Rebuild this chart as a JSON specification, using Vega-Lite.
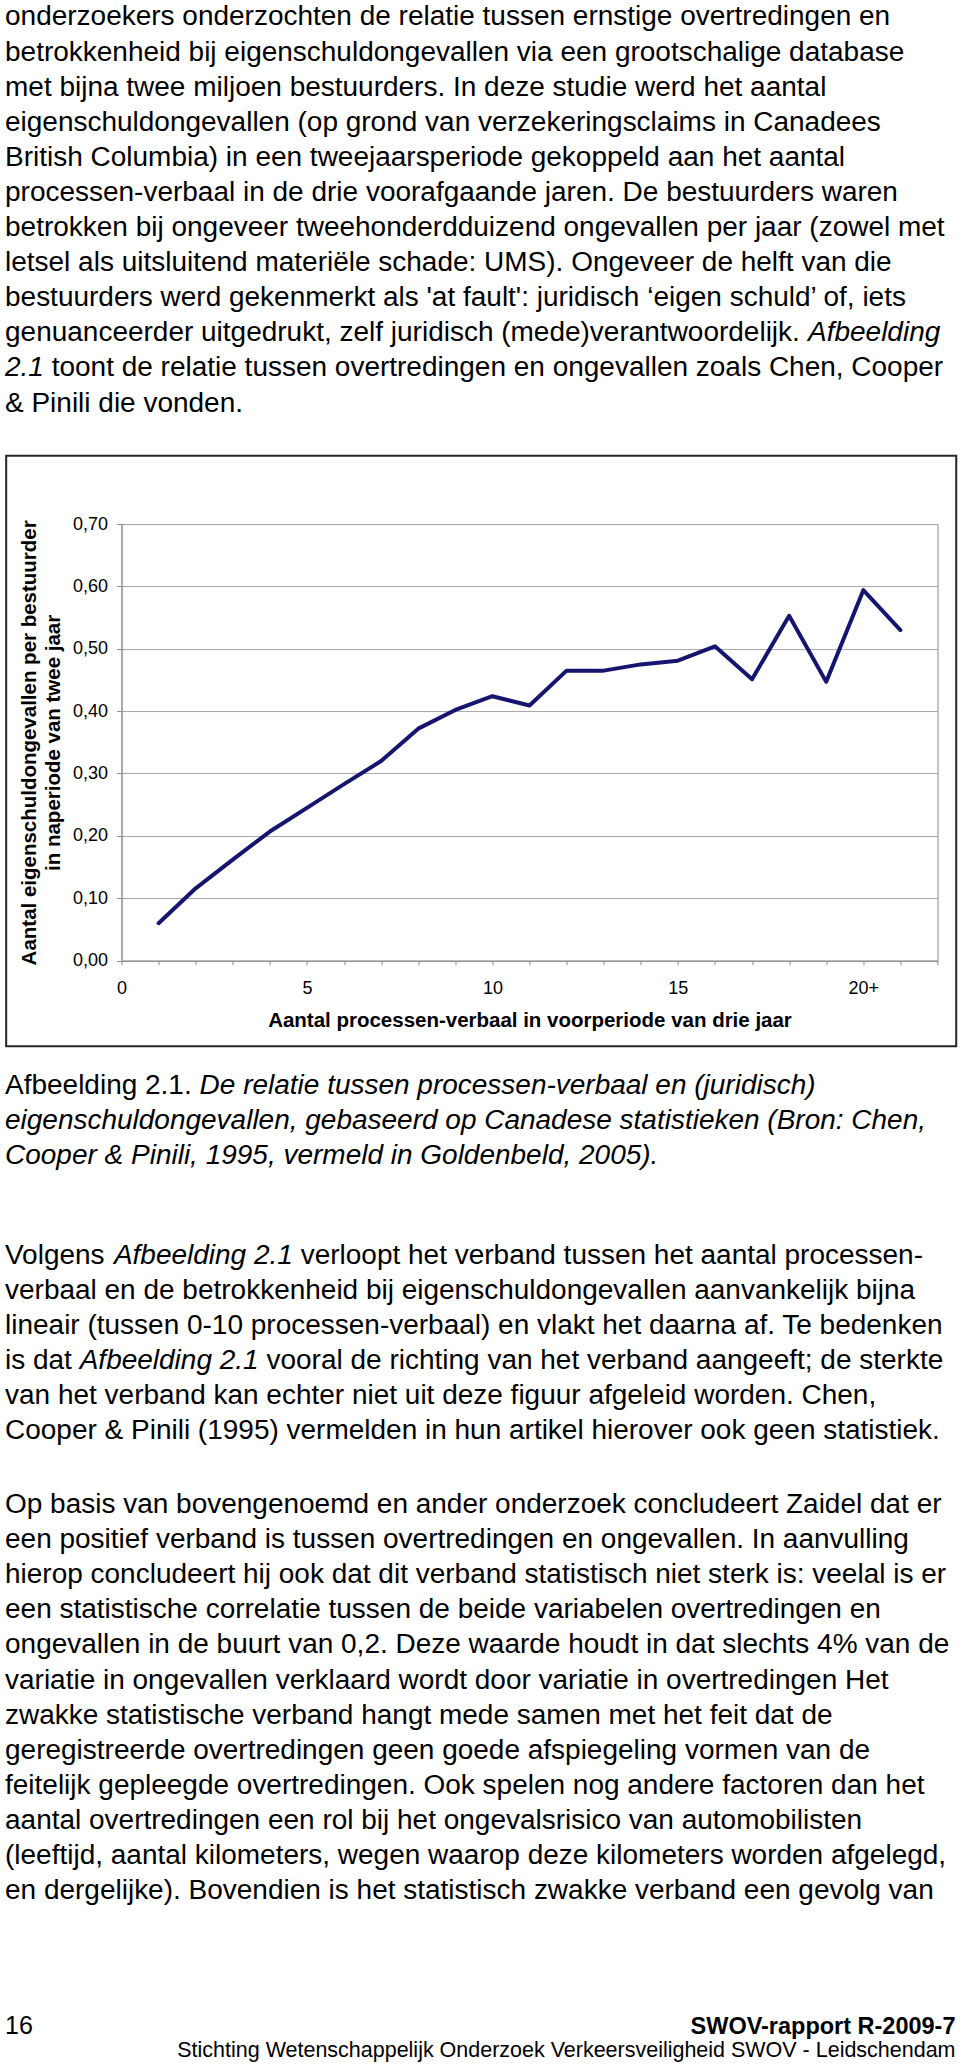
{
  "$schema": "https://vega.github.io/schema/vega-lite/v6.json",
  "background": "white",
  "padding": {"top": 0.93, "left": 4.5, "right": 0, "bottom": 0},
  "config": {"font": "Liberation Sans", "view": {"stroke": null}, "axis": {"labelOverlap": false, "labelBound": false}},
  "datasets": {
    "top_regular": [
      {"line": 1, "text": "onderzoekers onderzochten de relatie tussen ernstige overtredingen en"},
      {"line": 2, "text": "betrokkenheid bij eigenschuldongevallen via een grootschalige database"},
      {"line": 3, "text": "met bijna twee miljoen bestuurders. In deze studie werd het aantal"},
      {"line": 4, "text": "eigenschuldongevallen (op grond van verzekeringsclaims in Canadees"},
      {"line": 5, "text": "British Columbia) in een tweejaarsperiode gekoppeld aan het aantal"},
      {"line": 6, "text": "processen-verbaal in de drie voorafgaande jaren. De bestuurders waren"},
      {"line": 7, "text": "betrokken bij ongeveer tweehonderdduizend ongevallen per jaar (zowel met"},
      {"line": 8, "text": "letsel als uitsluitend materiële schade: UMS). Ongeveer de helft van die"},
      {"line": 9, "text": "bestuurders werd gekenmerkt als 'at fault': juridisch ‘eigen schuld’ of, iets"},
      {"line": 10, "text": "genuanceerder uitgedrukt, zelf juridisch (mede)verantwoordelijk."},
      {"line": 12, "text": "& Pinili die vonden."}
    ],
    "top_italic_end": [{"line": 10, "text": "Afbeelding"}],
    "top_italic_start": [{"line": 11, "text": "2.1"}],
    "top_regular_after": [{"line": 11, "text": "toont de relatie tussen overtredingen en ongevallen zoals Chen, Cooper"}],
    "caption_regular": [{"line": 1, "text": "Afbeelding 2.1."}],
    "caption_italic_after": [{"line": 1, "text": "De relatie tussen processen-verbaal en (juridisch)"}],
    "caption_italic": [
      {"line": 2, "text": "eigenschuldongevallen, gebaseerd op Canadese statistieken (Bron: Chen,"},
      {"line": 3, "text": "Cooper & Pinili, 1995, vermeld in Goldenbeld, 2005)."}
    ],
    "volgens_regular": [
      {"line": 1, "text": "Volgens"},
      {"line": 2, "text": "verbaal en de betrokkenheid bij eigenschuldongevallen aanvankelijk bijna"},
      {"line": 3, "text": "lineair (tussen 0-10 processen-verbaal) en vlakt het daarna af. Te bedenken"},
      {"line": 4, "text": "is dat"},
      {"line": 5, "text": "van het verband kan echter niet uit deze figuur afgeleid worden. Chen,"},
      {"line": 6, "text": "Cooper & Pinili (1995) vermelden in hun artikel hierover ook geen statistiek."}
    ],
    "volgens_italic_1": [{"line": 1, "text": "Afbeelding 2.1"}],
    "volgens_regular_1": [{"line": 1, "text": "verloopt het verband tussen het aantal processen-"}],
    "volgens_italic_4": [{"line": 4, "text": "Afbeelding 2.1"}],
    "volgens_regular_4": [{"line": 4, "text": "vooral de richting van het verband aangeeft; de sterkte"}],
    "opbasis": [
      {"line": 1, "text": "Op basis van bovengenoemd en ander onderzoek concludeert Zaidel dat er"},
      {"line": 2, "text": "een positief verband is tussen overtredingen en ongevallen. In aanvulling"},
      {"line": 3, "text": "hierop concludeert hij ook dat dit verband statistisch niet sterk is: veelal is er"},
      {"line": 4, "text": "een statistische correlatie tussen de beide variabelen overtredingen en"},
      {"line": 5, "text": "ongevallen in de buurt van 0,2. Deze waarde houdt in dat slechts 4% van de"},
      {"line": 6, "text": "variatie in ongevallen verklaard wordt door variatie in overtredingen Het"},
      {"line": 7, "text": "zwakke statistische verband hangt mede samen met het feit dat de"},
      {"line": 8, "text": "geregistreerde overtredingen geen goede afspiegeling vormen van de"},
      {"line": 9, "text": "feitelijk gepleegde overtredingen. Ook spelen nog andere factoren dan het"},
      {"line": 10, "text": "aantal overtredingen een rol bij het ongevalsrisico van automobilisten"},
      {"line": 11, "text": "(leeftijd, aantal kilometers, wegen waarop deze kilometers worden afgelegd,"},
      {"line": 12, "text": "en dergelijke). Bovendien is het statistisch zwakke verband een gevolg van"}
    ],
    "footer_page": [{"line": 1, "text": "16"}],
    "footer_report": [{"line": 1, "text": "SWOV-rapport R-2009-7"}],
    "footer_institute": [{"line": 2, "text": "Stichting Wetenschappelijk Onderzoek Verkeersveiligheid SWOV - Leidschendam"}],
    "series": [
      {"processen_verbaal": 1, "ongevallen": 0.060},
      {"processen_verbaal": 2, "ongevallen": 0.116},
      {"processen_verbaal": 3, "ongevallen": 0.162},
      {"processen_verbaal": 4, "ongevallen": 0.207},
      {"processen_verbaal": 5, "ongevallen": 0.245},
      {"processen_verbaal": 6, "ongevallen": 0.283},
      {"processen_verbaal": 7, "ongevallen": 0.320},
      {"processen_verbaal": 8, "ongevallen": 0.372},
      {"processen_verbaal": 9, "ongevallen": 0.402},
      {"processen_verbaal": 10, "ongevallen": 0.424},
      {"processen_verbaal": 11, "ongevallen": 0.409},
      {"processen_verbaal": 12, "ongevallen": 0.465},
      {"processen_verbaal": 13, "ongevallen": 0.465},
      {"processen_verbaal": 14, "ongevallen": 0.475},
      {"processen_verbaal": 15, "ongevallen": 0.481},
      {"processen_verbaal": 16, "ongevallen": 0.504},
      {"processen_verbaal": 17, "ongevallen": 0.451},
      {"processen_verbaal": 18, "ongevallen": 0.553},
      {"processen_verbaal": 19, "ongevallen": 0.447},
      {"processen_verbaal": 20, "ongevallen": 0.594},
      {"processen_verbaal": 21, "ongevallen": 0.530}
    ]
  },
  "spacing": 17.13,
  "vconcat": [
    {
      "width": 834,
      "height": 435.24,
      "encoding": {
        "x": {"datum": 0, "type": "quantitative", "scale": {"domain": [0, 1]}, "axis": null},
        "y": {"field": "line", "type": "ordinal", "scale": {"type": "point", "padding": 0.7}, "axis": null},
        "text": {"field": "text", "type": "nominal"}
      },
      "layer": [
        {"data": {"name": "top_regular"}, "mark": {"type": "text", "align": "left", "baseline": "alphabetic", "fontSize": 28, "color": "#000000", "dx": -116.5}},
        {"data": {"name": "top_italic_end"}, "mark": {"type": "text", "align": "left", "baseline": "alphabetic", "fontSize": 28, "fontStyle": "italic", "color": "#000000", "dx": 686.5}},
        {"data": {"name": "top_italic_start"}, "mark": {"type": "text", "align": "left", "baseline": "alphabetic", "fontSize": 28, "fontStyle": "italic", "color": "#000000", "dx": -116.5}},
        {"data": {"name": "top_regular_after"}, "mark": {"type": "text", "align": "left", "baseline": "alphabetic", "fontSize": 28, "color": "#000000", "dx": -69.8}}
      ]
    },
    {
      "spacing": 21.43,
      "vconcat": [
        {
          "width": 816,
          "height": 436.6,
          "view": {"stroke": "#8c8c8c", "strokeWidth": 1},
          "layer": [
            {
              "data": {"name": "series"},
              "mark": {"type": "line", "color": "#151570", "strokeWidth": 4, "strokeJoin": "round", "strokeCap": "round"},
              "encoding": {
                "x": {
                  "field": "processen_verbaal", "type": "quantitative",
                  "scale": {"domain": [0, 22], "nice": false, "zero": false},
                  "axis": {
                    "title": "Aantal processen-verbaal in voorperiode van drie jaar",
                    "values": [0, 1, 2, 3, 4, 5, 6, 7, 8, 9, 10, 11, 12, 13, 14, 15, 16, 17, 18, 19, 20, 21, 22],
                    "tickCount": 30,
                    "labelExpr": "datum.value == 20 ? '20+' : (datum.value % 5 == 0 ? format(datum.value, 'd') : '')",
                    "grid": false,
                    "domainColor": "#8c8c8c",
                    "tickColor": "#8c8c8c",
                    "tickSize": 4,
                    "labelPadding": 14.4,
                    "labelFontSize": 18,
                    "labelColor": "#000000",
                    "labelFlush": false,
                    "labelOverlap": false,
                    "labelBound": false,
                    "titleFontSize": 20.5,
                    "titleFontWeight": "bold",
                    "titleColor": "#000000",
                    "titlePadding": 13.5
                  }
                },
                "y": {
                  "field": "ongevallen", "type": "quantitative",
                  "scale": {"domain": [0, 0.7], "nice": false},
                  "axis": {
                    "title": ["Aantal eigenschuldongevallen per bestuurder", "in naperiode van twee jaar"],
                    "values": [0, 0.1, 0.2, 0.3, 0.4, 0.5, 0.6, 0.7],
                    "tickCount": 10,
                    "labelExpr": "replace(format(datum.value, '.2f'), '.', ',')",
                    "grid": true,
                    "gridColor": "#a6a6a6",
                    "gridWidth": 1,
                    "domainColor": "#8c8c8c",
                    "tickColor": "#8c8c8c",
                    "tickSize": 5,
                    "labelPadding": 9,
                    "labelFontSize": 18,
                    "labelColor": "#000000",
                    "labelFlush": false,
                    "labelOverlap": false,
                    "titleFontSize": 20.5,
                    "titleFontWeight": "bold",
                    "titleColor": "#000000",
                    "titleLineHeight": 24,
                    "titlePadding": 9
                  }
                }
              }
            },
            {
              "data": {"values": [{}]},
              "mark": {"type": "rect", "filled": false, "stroke": "#262626", "strokeWidth": 2},
              "encoding": {
                "x": {"datum": -3.109, "type": "quantitative"},
                "x2": {"datum": 22.505},
                "y": {"datum": -0.1374, "type": "quantitative"},
                "y2": {"datum": 0.8097}
              }
            }
          ]
        },
        {
          "spacing": 49.66,
          "vconcat": [
            {
              "width": 834,
              "height": 119.34,
              "encoding": {
                "x": {"datum": 0, "type": "quantitative", "scale": {"domain": [0, 1]}, "axis": null},
                "y": {"field": "line", "type": "ordinal", "scale": {"type": "point", "padding": 0.7}, "axis": null},
                "text": {"field": "text", "type": "nominal"}
              },
              "layer": [
                {"data": {"name": "caption_regular"}, "mark": {"type": "text", "align": "left", "baseline": "alphabetic", "fontSize": 28, "color": "#000000", "dx": -116.5}},
                {"data": {"name": "caption_italic_after"}, "mark": {"type": "text", "align": "left", "baseline": "alphabetic", "fontSize": 28, "fontStyle": "italic", "color": "#000000", "dx": 78.1}},
                {"data": {"name": "caption_italic"}, "mark": {"type": "text", "align": "left", "baseline": "alphabetic", "fontSize": 28, "fontStyle": "italic", "color": "#000000", "dx": -116.5}}
              ]
            },
            {
              "spacing": 24.36,
              "vconcat": [
                {
                  "width": 834,
                  "height": 224.64,
                  "encoding": {
                    "x": {"datum": 0, "type": "quantitative", "scale": {"domain": [0, 1]}, "axis": null},
                    "y": {"field": "line", "type": "ordinal", "scale": {"type": "point", "padding": 0.7}, "axis": null},
                    "text": {"field": "text", "type": "nominal"}
                  },
                  "layer": [
                    {"data": {"name": "volgens_regular"}, "mark": {"type": "text", "align": "left", "baseline": "alphabetic", "fontSize": 28, "color": "#000000", "dx": -116.5}},
                    {"data": {"name": "volgens_italic_1"}, "mark": {"type": "text", "align": "left", "baseline": "alphabetic", "fontSize": 28, "fontStyle": "italic", "color": "#000000", "dx": -7.6}},
                    {"data": {"name": "volgens_regular_1"}, "mark": {"type": "text", "align": "left", "baseline": "alphabetic", "fontSize": 28, "color": "#000000", "dx": 179.2}},
                    {"data": {"name": "volgens_italic_4"}, "mark": {"type": "text", "align": "left", "baseline": "alphabetic", "fontSize": 28, "fontStyle": "italic", "color": "#000000", "dx": -41.8}},
                    {"data": {"name": "volgens_regular_4"}, "mark": {"type": "text", "align": "left", "baseline": "alphabetic", "fontSize": 28, "color": "#000000", "dx": 145}}
                  ]
                },
                {
                  "spacing": 88.15,
                  "vconcat": [
                    {
                      "width": 834,
                      "height": 435.24,
                      "data": {"name": "opbasis"},
                      "mark": {"type": "text", "align": "left", "baseline": "alphabetic", "fontSize": 28, "color": "#000000", "dx": -116.5},
                      "encoding": {
                        "x": {"datum": 0, "type": "quantitative", "scale": {"domain": [0, 1]}, "axis": null},
                        "y": {"field": "line", "type": "ordinal", "scale": {"type": "point", "padding": 0.7}, "axis": null},
                        "text": {"field": "text", "type": "nominal"}
                      }
                    },
                    {
                      "width": 834,
                      "height": 65.8,
                      "encoding": {
                        "y": {"field": "line", "type": "ordinal", "scale": {"type": "point", "padding": 0.9}, "axis": null},
                        "text": {"field": "text", "type": "nominal"}
                      },
                      "layer": [
                        {"data": {"name": "footer_page"}, "mark": {"type": "text", "align": "left", "baseline": "alphabetic", "fontSize": 25, "color": "#000000", "dx": -116.5},
                         "encoding": {"x": {"datum": 0, "type": "quantitative", "scale": {"domain": [0, 1]}, "axis": null}}},
                        {"data": {"name": "footer_report"}, "mark": {"type": "text", "align": "right", "baseline": "alphabetic", "fontSize": 23.5, "fontWeight": "bold", "color": "#000000"},
                         "encoding": {"x": {"datum": 1, "type": "quantitative", "scale": {"domain": [0, 1]}, "axis": null}}},
                        {"data": {"name": "footer_institute"}, "mark": {"type": "text", "align": "right", "baseline": "alphabetic", "fontSize": 21.5, "color": "#000000"},
                         "encoding": {"x": {"datum": 1, "type": "quantitative", "scale": {"domain": [0, 1]}, "axis": null}}}
                      ]
                    }
                  ]
                }
              ]
            }
          ]
        }
      ]
    }
  ]
}
